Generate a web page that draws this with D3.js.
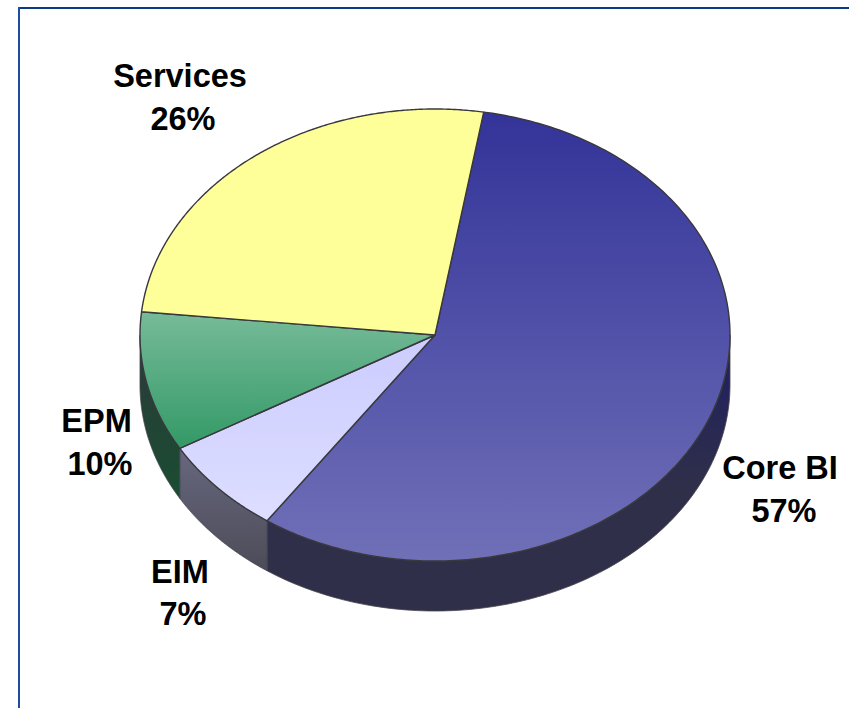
<!DOCTYPE html>
<html>
<head>
<meta charset="utf-8">
<script src="https://cdn.jsdelivr.net/npm/d3@7"></script>
<style>
  html, body { margin: 0; padding: 0; background: #fff; }
  svg { display: block; }
  text { font-family: "Liberation Sans", Arial, sans-serif; font-weight: 700; fill: #000; }
</style>
</head>
<body>
<svg id="chart" width="849" height="708"></svg>
<script>
// Revenue share by product line
const categories = ["Core BI", "EIM", "EPM", "Services"];
const shares = [57, 7, 10, 26];

// Colours per slice: top face gradient and rim gradient
const faceTop = ["#333399", "#ccccff", "#77bb99", "#ffff99"];
const faceBottom = ["#7070b8", "#dddeff", "#339966", "#ffff99"];
const rimTop = ["#1e1e62", "#67677f", "#2b3a38", "#808050"];
const rimBottom = ["#2f2f4a", "#4c4c58", "#1a4d33", "#808050"];
const rimFade = [0.55, 1, 1, 1];

const width = 849, height = 708;
const svg = d3.select("#chart").attr("viewBox", [0, 0, width, height]);

// Pie geometry: an ellipse for the tilted disc plus a rim below it
const cx = 435, cy = 335, rx = 295, ry = 226, depth = 50;
const firstAngle = 9.5 * Math.PI / 180;
const x = d3.scaleLinear().domain([-1, 1]).range([cx - rx, cx + rx]);
const y = d3.scaleLinear().domain([-1, 1]).range([cy - ry, cy + ry]);

const pie = d3.pie().sort(null).value(d => d)
  .startAngle(firstAngle).endAngle(firstAngle + 2 * Math.PI);
const slices = pie(shares);

const defs = svg.append("defs");
function gradient(id, from, to, end) {
  const g = defs.append("linearGradient").attr("id", id)
    .attr("x1", 0).attr("y1", 0).attr("x2", 0).attr("y2", 1);
  g.append("stop").attr("offset", 0).attr("stop-color", from);
  g.append("stop").attr("offset", end).attr("stop-color", to);
}
categories.forEach((c, i) => {
  gradient("face" + i, faceTop[i], faceBottom[i], 1);
  gradient("rim" + i, rimTop[i], rimBottom[i], rimFade[i]);
});

// Frame around the plot, running off the right and bottom edges
svg.append("line").attr("x1", 18).attr("x2", width).attr("y1", 8).attr("y2", 8)
  .attr("stroke", "#0c3a84").attr("stroke-width", 2);
svg.append("line").attr("x1", 19).attr("x2", 19).attr("y1", 7).attr("y2", height)
  .attr("stroke", "#1f4c9e").attr("stroke-width", 2);

const px = a => x(Math.sin(a));
const py = a => y(-Math.cos(a));

// Rim: only the front half of the disc (90deg to 270deg clockwise from the top) shows
const line = d3.line();
function rimPath(d) {
  const a0 = Math.max(d.startAngle, Math.PI / 2);
  const a1 = Math.min(d.endAngle, 3 * Math.PI / 2);
  if (a1 <= a0) return null;
  const angles = d3.range(0, 121).map(k => a0 + (a1 - a0) * k / 120);
  const upper = angles.map(a => [px(a), py(a)]);
  const lower = angles.slice().reverse().map(a => [px(a), py(a) + depth]);
  return line(upper.concat(lower)) + "Z";
}
svg.append("g").selectAll("path").data(slices).join("path")
  .attr("d", rimPath)
  .attr("fill", (d, i) => `url(#rim${i})`)
  .attr("stroke", "#44444c").attr("stroke-width", 0.8).attr("stroke-linejoin", "round");

// Top faces
function facePath(d) {
  const angles = d3.range(0, 241).map(k => d.startAngle + (d.endAngle - d.startAngle) * k / 240);
  return line([[x(0), y(0)], ...angles.map(a => [px(a), py(a)])]) + "Z";
}
svg.append("g").selectAll("path").data(slices).join("path")
  .attr("d", facePath)
  .attr("fill", (d, i) => `url(#face${i})`)
  .attr("stroke", "#38383d").attr("stroke-width", 1.4).attr("stroke-linejoin", "round");

// Two-line category labels beside the slices
const nameAt = [[780, 479], [180, 583], [96.5, 432], [180, 87]];
const shareAt = [[784, 522], [183, 625], [100, 475], [183, 130]];
const labels = svg.append("g").selectAll("text").data(slices).join("text")
  .attr("text-anchor", "middle").attr("font-size", 32.5);
labels.append("tspan").attr("x", (d, i) => nameAt[i][0]).attr("y", (d, i) => nameAt[i][1])
  .text((d, i) => categories[i]);
labels.append("tspan").attr("x", (d, i) => shareAt[i][0]).attr("y", (d, i) => shareAt[i][1])
  .text(d => d.value + "%");
</script>
</body>
</html>
